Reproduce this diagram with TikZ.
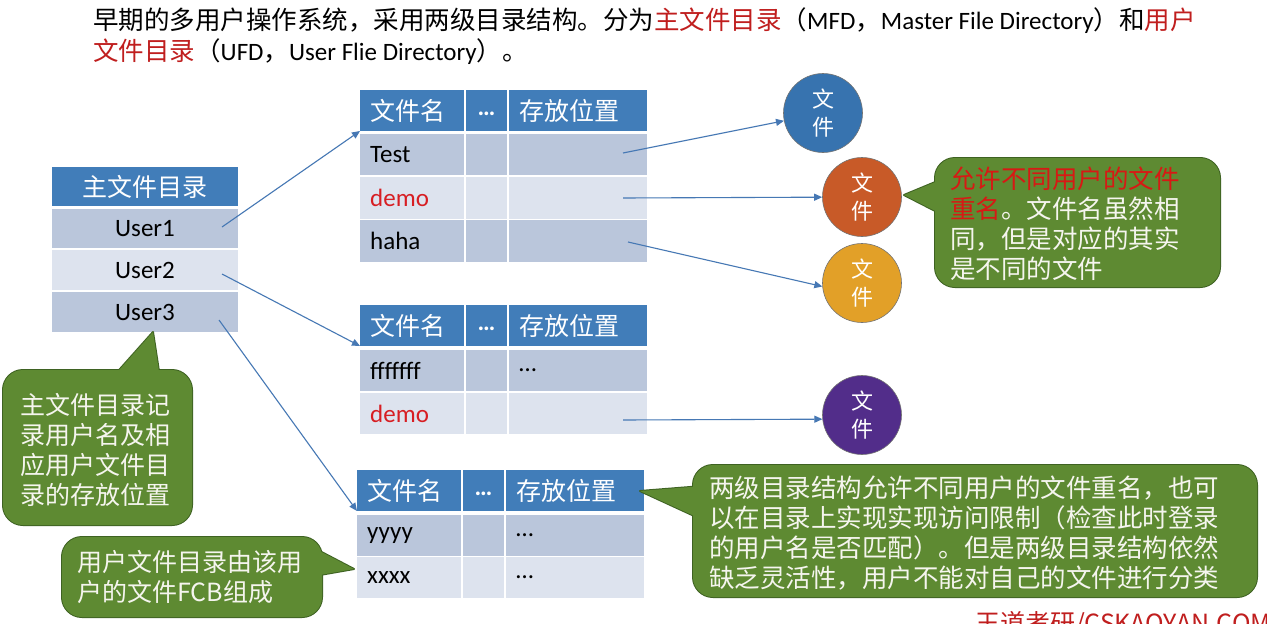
\documentclass[tikz,border=0pt]{standalone}
\usepackage{fontspec}
\setmainfont{Carlito}
\newfontfamily\cjk{Noto Sans CJK SC}
\usetikzlibrary{arrows.meta}
\definecolor{hdrblue}{RGB}{65,125,185}
\definecolor{rowdark}{RGB}{186,198,219}
\definecolor{rowlight}{RGB}{221,227,238}
\definecolor{callgreen}{RGB}{94,138,50}
\definecolor{callborder}{RGB}{62,98,34}
\definecolor{txtred}{RGB}{192,30,30}
\definecolor{demored}{RGB}{215,30,35}
\definecolor{calred}{RGB}{215,25,20}
\definecolor{caltxt}{RGB}{245,245,238}
\definecolor{arrowblue}{RGB}{70,120,180}
\definecolor{cblue}{RGB}{55,115,175}
\definecolor{corange}{RGB}{200,90,40}
\definecolor{cyellow}{RGB}{226,160,40}
\definecolor{cpurple}{RGB}{82,45,138}
\newcommand\cjkfs{\cjk\fontsize{25}{30}\selectfont}
\newcommand\cjkbig{\cjk\fontsize{25.5}{30}\selectfont}
\newcommand\latfs{\rmfamily\fontsize{25}{30}\selectfont}
\newcommand\circfs{\cjk\fontsize{22}{28}\selectfont}
\newcommand\trow[5]{%
 \node[cellbase, fill=#5, minimum width=104pt, minimum height=#4pt] (#1a) at (#2,#3) {};
 \node[cellbase, fill=#5, minimum width=41pt, minimum height=#4pt, xshift=106pt] (#1b) at (#2,#3) {};
 \node[cellbase, fill=#5, minimum width=138pt, minimum height=#4pt, xshift=149pt] (#1c) at (#2,#3) {};
}
\begin{document}
\begin{tikzpicture}[x=1pt,y=-1pt,
  cellbase/.style={inner sep=0pt, outer sep=0pt, anchor=north west, draw=none},
  hdrtxt/.style={text=white, font=\cjkfs, inner sep=0pt, anchor=west},
  rowtxt/.style={text=black, font=\latfs, inner sep=0pt, anchor=west},
  conn/.style={draw=arrowblue, line width=1.1pt, -{Triangle[length=8pt,width=7pt]}},
  fcircle/.style={circle, minimum size=79pt, inner sep=0pt, draw=black!55, line width=0.6pt, text=white, font=\circfs, align=center},
  cb/.style={draw=callborder, line width=2pt, line join=round},
  ctext/.style={text=caltxt, font=\cjkfs, align=left, inner sep=0pt, anchor=west}]
\useasboundingbox (0,0) rectangle (1267,624);
\fill[white] (0,0) rectangle (1267,624);

% title
\node[anchor=west, inner sep=0pt, font=\cjkbig] (title1) at (93,21) {早期的多用户操作系统，采用两级目录结构。分为\textcolor{txtred}{主文件目录}（{\latfs MFD}，{\latfs Master File Directory}）和\textcolor{txtred}{用户}};
\node[anchor=west, inner sep=0pt, font=\cjkbig] (title2) at (93,52) {\textcolor{txtred}{文件目录}（{\latfs UFD}，{\latfs User Flie Directory}）。};

% master table
\node[cellbase, fill=hdrblue, minimum width=186pt, minimum height=39pt] (mh) at (52,167) {};
\node[text=white, font=\cjkfs, inner sep=0pt] at (mh) {主文件目录};
\node[cellbase, fill=rowdark, minimum width=186pt, minimum height=39pt] (u1) at (52,209) {};
\node[cellbase, fill=rowlight, minimum width=186pt, minimum height=40pt] (u2) at (52,250) {};
\node[cellbase, fill=rowdark, minimum width=186pt, minimum height=40pt] (u3) at (52,292) {};
\node[font=\latfs, inner sep=0pt] at (u1) {User1};
\node[font=\latfs, inner sep=0pt] at (u2) {User2};
\node[font=\latfs, inner sep=0pt] at (u3) {User3};

% table 1
\trow{t1h}{360}{90}{41}{hdrblue}
\trow{t1r1}{360}{134}{41}{rowdark}
\trow{t1r2}{360}{177}{42}{rowlight}
\trow{t1r3}{360}{220}{42}{rowdark}
% table 2
\trow{t2h}{360}{305}{41}{hdrblue}
\trow{t2r1}{360}{350}{41}{rowdark}
\trow{t2r2}{360}{393}{41}{rowlight}
% table 3
\trow{t3h}{357}{470}{41}{hdrblue}
\trow{t3r1}{357}{515}{41}{rowdark}
\trow{t3r2}{357}{557}{41}{rowlight}

\foreach \t in {t1h,t2h,t3h}{
  \node[hdrtxt] at ([xshift=10pt]\t a.west) {文件名};
  \node[text=white, font=\latfs\bfseries, inner sep=0pt] at ([yshift=-3pt]\t b) {…};
  \node[hdrtxt] at ([xshift=10pt]\t c.west) {存放位置};
}
\node[rowtxt] at ([xshift=10pt]t1r1a.west) {Test};
\node[rowtxt, text=demored] at ([xshift=10pt]t1r2a.west) {demo};
\node[rowtxt] at ([xshift=10pt]t1r3a.west) {haha};
\node[rowtxt] at ([xshift=10pt]t2r1a.west) {fffffff};
\node[rowtxt] at ([xshift=10pt]t2r1c.west) {…};
\node[rowtxt, text=demored] at ([xshift=10pt]t2r2a.west) {demo};
\node[rowtxt] at ([xshift=10pt]t3r1a.west) {yyyy};
\node[rowtxt] at ([xshift=10pt]t3r1c.west) {…};
\node[rowtxt] at ([xshift=10pt]t3r2a.west) {xxxx};
\node[rowtxt] at ([xshift=10pt]t3r2c.west) {…};

% circles
\node[fcircle, fill=cblue] (c1) at (823,113) {文\\件};
\node[fcircle, fill=corange] (c2) at (862,197) {文\\件};
\node[fcircle, fill=cyellow] (c3) at (862,283) {文\\件};
\node[fcircle, fill=cpurple] (c4) at (862,415) {文\\件};

% connectors
\coordinate (s1) at (222,227);
\coordinate (s2) at (222,274);
\coordinate (s3) at (219,320);
\coordinate (f1) at (623,153);
\coordinate (f2) at (623,198);
\coordinate (f3) at (628,242);
\coordinate (f4) at (623,420);
\draw[conn] (s1) -- (t1ha.south west);
\draw[conn] (s2) -- (t2ha.south west);
\draw[conn] (s3) -- (t3ha.south west);
\draw[conn] (f1) -- (c1);
\draw[conn] (f2) -- (c2);
\draw[conn] (f3) -- (c3.185);
\draw[conn] (f4) -- (c4.186);

% callout 1
\draw[cb, rounded corners=20pt] (935,158) rectangle (1220,287);
\draw[cb] (904,195) -- (945,178) -- (945,216) -- cycle;
\fill[callgreen, rounded corners=20pt] (935,158) rectangle (1220,287);
\fill[callgreen] (904,195) -- (945,178) -- (945,216) -- cycle;
\node[ctext, font=\cjkbig] (n1) at (950,224) {\textcolor{calred}{允许不同用户的文件}\\\textcolor{calred}{重名}。文件名虽然相\\同，但是对应的其实\\是不同的文件};

% callout 2
\draw[cb, rounded corners=20pt] (693,465) rectangle (1257,597);
\draw[cb] (640,491) -- (703,486) -- (703,520) -- cycle;
\fill[callgreen, rounded corners=20pt] (693,465) rectangle (1257,597);
\fill[callgreen] (640,491) -- (703,486) -- (703,520) -- cycle;
\node[ctext, font=\cjkbig] (n2) at (709,533) {两级目录结构允许不同用户的文件重名，也可\\以在目录上实现实现访问限制（检查此时登录\\的用户名是否匹配）。但是两级目录结构依然\\缺乏灵活性，用户不能对自己的文件进行分类};

% callout 3
\draw[cb, rounded corners=20pt] (3,370) rectangle (192,525);
\draw[cb] (153,332) -- (112,378) -- (160,378) -- cycle;
\fill[callgreen, rounded corners=20pt] (3,370) rectangle (192,525);
\fill[callgreen] (153,332) -- (112,378) -- (160,378) -- cycle;
\node[ctext] (n3) at (20,450) {主文件目录记\\录用户名及相\\应用户文件目\\录的存放位置};

% callout 4
\draw[cb, rounded corners=20pt] (62,537) rectangle (322,617);
\draw[cb] (354,569) -- (310,546) -- (314,576) -- cycle;
\fill[callgreen, rounded corners=20pt] (62,537) rectangle (322,617);
\fill[callgreen] (354,569) -- (310,546) -- (314,576) -- cycle;
\node[ctext] (n4) at (77,577) {用户文件目录由该用\\户的文件FCB组成};

% watermark (cut off at the lower edge, as in the reference)
\node[anchor=north west, inner sep=0pt, font=\cjkfs, text=txtred] (wm) at (975,611) {王道考研/CSKAOYAN.COM};
\end{tikzpicture}
\end{document}
